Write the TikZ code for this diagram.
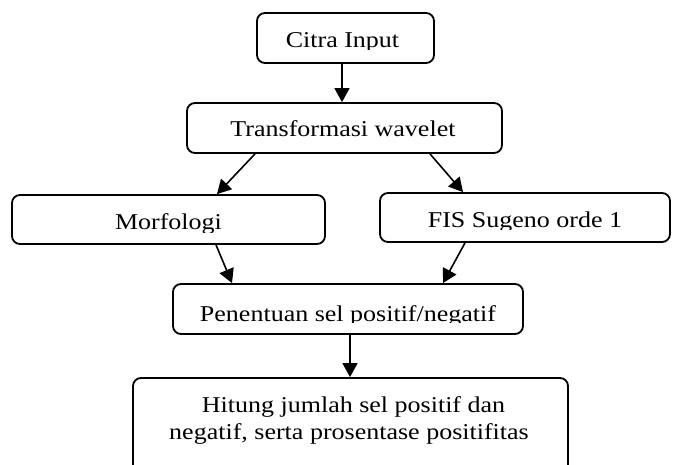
\documentclass[tikz,border=0pt]{standalone}
\usepackage{fontspec}
\setmainfont{Liberation Serif}
\usetikzlibrary{arrows.meta}
\newcommand{\sq}[1]{\scalebox{1}[0.87]{#1}}
\tikzset{
  box/.style={draw, line width=1.8pt, rounded corners=8pt, inner sep=0pt},
  txt/.style={inner sep=0pt, font=\fontsize{26}{31}\selectfont, anchor=base},
  arr/.style={line width=1.6pt, -{Triangle[length=14pt,width=15pt]}}
}
\begin{document}
\begin{tikzpicture}[x=1pt,y=-1pt]
\clip (0,0) rectangle (683,465);
\fill[white] (0,0) rectangle (683,465);
% boxes
\node[box, minimum width=177pt, minimum height=50pt] (citra) at (345.5,38) {};
\node[box, minimum width=315pt, minimum height=50pt] (trans) at (344.5,128) {};
\node[box, minimum width=313pt, minimum height=49pt] (morf) at (168.5,219.5) {};
\node[box, minimum width=290pt, minimum height=49pt] (fis) at (525,217.5) {};
\node[box, minimum width=350pt, minimum height=50pt] (pen) at (348,309) {};
\node[box, minimum width=435pt, minimum height=102pt] (hit) at (350.5,429) {};
% texts (clipped just below the baseline, as in the reference)
\begin{scope}\clip (260,15) rectangle (430,50);
\node[txt] (tcitra) at (342.5,47.3) {\sq{Citra Input}};\end{scope}
\node[txt] (ttrans) at (343,137) {\sq{Transformasi wavelet}};
\begin{scope}\clip (15,197) rectangle (320,233);
\node[txt] (tmorf) at (168.5,229.5) {\sq{Morfologi}};\end{scope}
\begin{scope}\clip (385,195) rectangle (665,230);
\node[txt] (tfis) at (525,227.7) {\sq{FIS Sugeno orde 1}};\end{scope}
\begin{scope}\clip (176,286) rectangle (520,322.7);
\node[txt] (tpen) at (348,321) {\sq{Penentuan sel positif/negatif}};\end{scope}
\node[txt] (thit1) at (353.5,412) {\sq{Hitung jumlah sel positif dan}};
\node[txt] (thit2) at (349,439) {\sq{negatif, serta prosentase positifitas}};
% connectors
\draw[arr] ([xshift=-3.5pt]citra.south) -- ([xshift=-3.5pt]citra.south |- trans.north);
\draw[arr] ([xshift=-89.5pt]trans.south) -- ([xshift=48.5pt]morf.north);
\draw[arr] ([xshift=85.5pt]trans.south) -- ([xshift=-62pt]fis.north);
\draw[arr] ([xshift=47.5pt]morf.south) -- ([xshift=-116pt]pen.north);
\draw[arr] ([xshift=-60pt]fis.south) -- ([xshift=95pt]pen.north);
\draw[arr] ([xshift=2pt]pen.south) -- ([xshift=2pt]pen.south |- hit.north);
\end{tikzpicture}
\end{document}
